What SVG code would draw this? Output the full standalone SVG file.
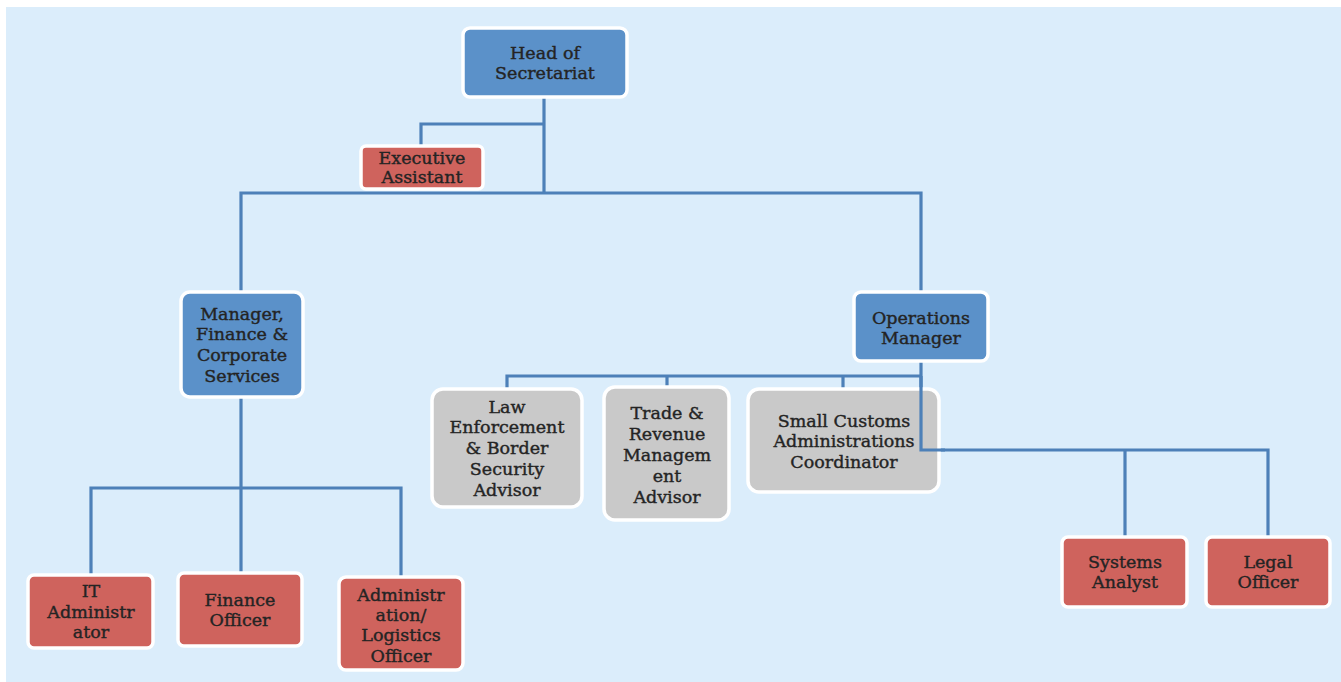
<svg xmlns="http://www.w3.org/2000/svg" width="1341" height="682" viewBox="0 0 1341 682">
<style>
.bg{fill:#dbedfb}
.box{stroke:#ffffff;stroke-width:3.5}
.blue{fill:#5b91c9}
.red{fill:#cf635d}
.gray{fill:#c9c9c9}
.t{font-family:"DejaVu Serif","Liberation Serif",serif;font-size:17.5px;fill:#242424;text-anchor:middle;stroke:#242424;stroke-width:0.4}
.c{fill:none;stroke:#4d80b8;stroke-width:3.2}
</style>
<rect x="0" y="0" width="1341" height="682" fill="#ffffff"/>
<rect class="bg" x="6" y="7" width="1335" height="675"/>
<g id="connectors">
<polyline class="c" points="544,97 544,193"/>
<polyline class="c" points="544,124 421,124 421,146"/>
<polyline class="c" points="241,292 241,193 921,193 921,292"/>
<polyline class="c" points="241,397 241,573"/>
<polyline class="c" points="91,575 91,488 401,488 401,577"/>
<polyline class="c" points="921,361 921,450 1268,450 1268,537"/>
<polyline class="c" points="1125,450 1125,537"/>
<polyline class="c" points="507,389 507,376 921,376"/>
<polyline class="c" points="667,376 667,387"/>
<polyline class="c" points="843,376 843,389"/>
</g>
<g id="head">
<rect class="box blue" x="463" y="28" width="164" height="69" rx="7"/>
<text class="t" x="545" y="59">Head of</text>
<text class="t" x="545" y="79">Secretariat</text>
</g>
<g id="exec">
<rect class="box red" x="361" y="146" width="122" height="43" rx="5"/>
<text class="t" x="422" y="164">Executive</text>
<text class="t" x="422" y="183">Assistant</text>
</g>
<g id="manager">
<rect class="box blue" x="181" y="292" width="122" height="105" rx="9"/>
<text class="t" x="242" y="320">Manager,</text>
<text class="t" x="242" y="340">Finance &amp;</text>
<text class="t" x="242" y="361">Corporate</text>
<text class="t" x="242" y="382">Services</text>
</g>
<g id="ops">
<rect class="box blue" x="854" y="292" width="134" height="69" rx="7"/>
<text class="t" x="921" y="324">Operations</text>
<text class="t" x="921" y="344">Manager</text>
</g>
<g id="law">
<rect class="box gray" x="432" y="389" width="150" height="118" rx="11"/>
<text class="t" x="507" y="413">Law</text>
<text class="t" x="507" y="433">Enforcement</text>
<text class="t" x="507" y="454">&amp; Border</text>
<text class="t" x="507" y="475">Security</text>
<text class="t" x="507" y="496">Advisor</text>
</g>
<g id="trade">
<rect class="box gray" x="604" y="387" width="125" height="133" rx="11"/>
<text class="t" x="667" y="419">Trade &amp;</text>
<text class="t" x="667" y="440">Revenue</text>
<text class="t" x="667" y="461">Managem</text>
<text class="t" x="667" y="482">ent</text>
<text class="t" x="667" y="503">Advisor</text>
</g>
<g id="small">
<rect class="box gray" x="748" y="389" width="191" height="103" rx="11"/>
<text class="t" x="844" y="427">Small Customs</text>
<text class="t" x="844" y="447">Administrations</text>
<text class="t" x="844" y="468">Coordinator</text>
</g>
<g id="connector-overlay">
<polyline class="c" points="921,376 921,450 945,450"/>
</g>
<g id="systems">
<rect class="box red" x="1062" y="537" width="125" height="70" rx="6"/>
<text class="t" x="1125" y="568">Systems</text>
<text class="t" x="1125" y="588">Analyst</text>
</g>
<g id="legal">
<rect class="box red" x="1206" y="537" width="124" height="70" rx="6"/>
<text class="t" x="1268" y="568">Legal</text>
<text class="t" x="1268" y="588">Officer</text>
</g>
<g id="it">
<rect class="box red" x="28" y="575" width="125" height="73" rx="6"/>
<text class="t" x="91" y="597">IT</text>
<text class="t" x="91" y="618">Administr</text>
<text class="t" x="91" y="638">ator</text>
</g>
<g id="finance">
<rect class="box red" x="178" y="573" width="124" height="73" rx="6"/>
<text class="t" x="240" y="606">Finance</text>
<text class="t" x="240" y="626">Officer</text>
</g>
<g id="admin">
<rect class="box red" x="339" y="577" width="124" height="93" rx="7"/>
<text class="t" x="401" y="601">Administr</text>
<text class="t" x="401" y="621">ation/</text>
<text class="t" x="401" y="641">Logistics</text>
<text class="t" x="401" y="662">Officer</text>
</g>
</svg>
